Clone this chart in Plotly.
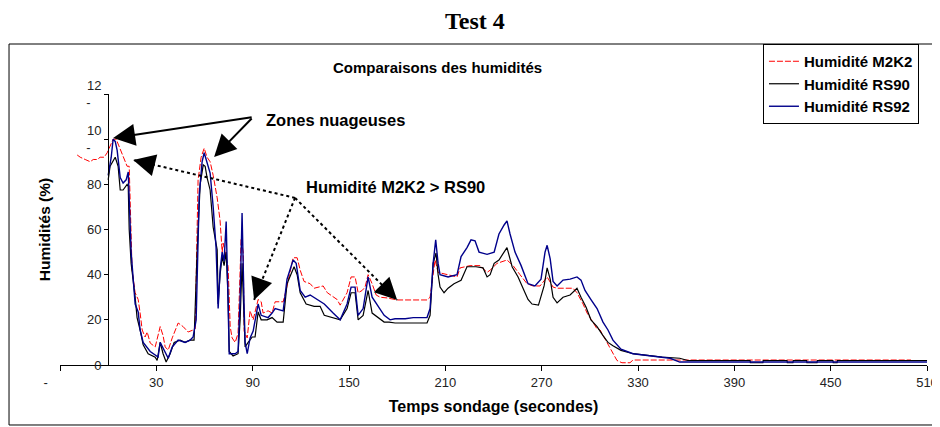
import plotly.graph_objects as go

# temps (s) et humidité (%)
t_m2k2 = [-19.3, -17.4, -14.3, -11.2, -9.3, -6.8, -5.0, -2.5, -0.6, 1.2, 3.1, 5.0, 6.2, 7.5, 10.0, 11.8, 13.1, 13.7,
          14.3, 14.9, 16.8, 18.7, 19.9, 21.2, 23.0, 24.3, 26.2, 29.3, 32.4, 34.2, 35.5, 37.4, 39.9, 41.7, 43.6, 46.7,
          49.8, 52.9, 54.2, 55.4, 56.0, 57.9, 59.8, 61.6, 63.5, 65.4, 67.9, 69.7, 71.0, 71.6, 73.5, 74.7, 76.0, 77.2,
          79.1, 80.9, 82.2, 82.8, 84.1, 84.7, 86.6, 88.4, 90.3, 92.2, 93.4, 95.3, 96.5, 99.6, 102.1, 104.0, 109.0,
          110.8, 113.3, 115.2, 117.7, 119.6, 122.0, 125.8, 128.3, 133.9, 136.5, 140.1, 142.6, 144.5, 148.8, 151.3,
          153.8, 155.7, 158.2, 160.0, 161.9, 164.4, 166.9, 169.4, 173.7, 180.0, 198.6, 200.5, 201.7, 203.6, 205.5,
          211.1, 217.3, 219.2, 225.4, 231.6, 236.0, 237.9, 242.2, 248.4, 252.2, 256.5, 260.9, 264.6, 269.0, 273.4,
          277.1, 279.6, 289.5, 292.0, 295.8, 298.3, 302.0, 304.5, 306.4, 310.7, 313.8, 316.9, 320.0, 325.0, 326.9,
          500.0]
h_m2k2 = [93, 92, 91, 90, 91, 91, 92, 92, 94, 97, 100, 100, 98, 95, 91, 88, 88, 70,
          54, 42, 32, 29, 23, 15.5, 12.4, 14.6, 9.7, 8, 17, 13, 8, 6.6, 12, 15.5, 18.6, 17,
          14.6, 15.5, 16, 60, 82, 92, 96, 92, 90, 84, 74, 64, 50, 54, 48, 43.6, 17, 12,
          10, 14, 42, 56, 50, 15, 12, 24, 20, 26, 29, 28, 23, 24, 23, 28, 28,
          33, 42, 47.5, 47.5, 42, 37, 36, 34, 35, 32, 30, 29, 26.5, 32, 39,
          39, 32, 33, 34.5, 40, 36, 31, 30, 29.7, 28.8, 28.8, 30, 36, 46.5, 41,
          40, 39, 43, 44, 44, 41, 42, 45, 46.5, 44, 40, 36, 35, 35, 39,
          34.5, 34, 34, 32, 27, 23, 18.6, 16, 15.5, 10, 6, 2, 1, 1, 2.2,
          2.2]

t_rs90 = [0.0, 1.2, 4.4, 6.2, 7.5, 9.3, 11.8, 12.5, 13.1, 14.3, 16.8, 18.0, 19.9, 21.8, 24.9, 29.3, 30.5, 32.4,
          34.2, 36.1, 38.6, 41.1, 44.8, 47.9, 51.0, 53.5, 55.4, 57.3, 59.2, 60.4, 61.6, 63.5, 65.4, 67.9, 68.5,
          69.7, 71.0, 72.2, 73.5, 74.7, 75.4, 77.8, 80.9, 82.2, 83.4, 84.7, 85.3, 87.2, 89.7, 91.5, 93.4, 95.3,
          99.0, 102.1, 105.2, 109.0, 111.4, 115.8, 117.7, 119.6, 123.3, 128.3, 132.0, 134.6, 140.1, 144.5, 148.8,
          151.3, 153.8, 155.7, 158.8, 161.9, 164.4, 168.1, 171.9, 175.0, 178.7, 198.6, 200.5, 202.4, 204.2, 205.5,
          206.7, 209.2, 211.7, 215.4, 219.8, 223.5, 229.1, 233.5, 236.0, 237.9, 240.4, 243.4, 248.4, 251.6, 255.3,
          259.0, 261.5, 264.0, 268.0, 271.5, 273.4, 275.3, 277.1, 279.6, 283.3, 287.7, 292.0, 294.5, 297.6, 300.7,
          304.5, 308.2, 311.3, 314.4, 319.4, 326.9, 337.5, 345.0, 356.0, 361.0, 399.8, 400.0, 407.8, 408.0, 422.8,
          423.0, 426.5, 426.7, 435.0, 435.2, 441.5, 441.7, 451.4, 451.6, 454.0, 454.2, 510.0]
h_rs90 = [82, 88, 92, 88, 77.5, 77.5, 80, 79, 60, 45, 30, 21, 15.5, 9, 5, 3.5, 2, 10,
          5, 1.3, 5, 10, 11, 10, 11, 11, 50, 80, 88.6, 88, 83, 77.5, 61, 51, 27,
          40, 48, 44, 50, 30, 6, 4, 5, 20, 45, 20, 8, 10, 12.4, 12.4, 23.5, 20,
          20, 21, 19, 19, 36, 43.5, 40, 32, 27, 26, 26, 22, 21, 20, 25,
          32, 32, 20, 22, 33, 23, 21, 19, 19, 18.6, 18.6, 22, 45, 49.6, 40,
          34.5, 32, 34, 36, 37.5, 43.5, 43.5, 43, 39, 40, 45, 46.5, 52, 43.5, 39,
          33, 29, 27, 26.5, 35, 43, 38, 30, 27.5, 30, 31, 34, 30, 25.7, 20,
          17, 13, 10, 8.5, 6.5, 5, 4, 3.5, 3, 2, 2, 1, 1, 2, 2,
          1, 1, 2, 2, 1, 1, 2, 2, 1, 1, 2, 2]

t_rs92 = [0.0, 1.9, 3.1, 4.4, 5.6, 7.5, 9.3, 11.2, 12.5, 13.1, 14.3, 16.8, 18.7, 19.9, 21.8, 26.2, 29.3, 31.1,
          32.4, 35.5, 37.4, 39.9, 43.6, 47.9, 51.0, 52.9, 54.8, 56.7, 58.5, 59.8, 61.0, 62.3, 63.5, 65.4, 67.2,
          68.5, 69.7, 71.0, 72.2, 73.5, 74.7, 75.4, 79.1, 80.9, 82.2, 83.4, 84.7, 85.3, 86.6, 88.4, 90.3, 92.2,
          93.4, 95.3, 99.6, 102.1, 104.0, 109.0, 111.4, 115.2, 117.1, 119.6, 122.7, 125.8, 130.1, 134.6, 140.1,
          144.5, 148.8, 151.3, 153.8, 155.7, 158.8, 161.9, 164.4, 168.1, 171.9, 175.6, 178.7, 185.0, 190.0, 198.6,
          200.5, 202.4, 204.0, 205.5, 206.7, 211.7, 217.3, 219.8, 223.5, 226.0, 228.5, 231.0, 236.0, 240.4, 243.4,
          246.6, 248.4, 250.3, 253.4, 257.2, 261.5, 265.8, 269.6, 272.1, 273.4, 275.3, 277.1, 279.6, 283.3, 287.7,
          292.0, 294.5, 297.0, 300.7, 304.5, 308.2, 311.3, 314.4, 319.4, 326.9, 337.5, 345.0, 350.0, 356.0, 510.0]
h_rs92 = [84, 92, 100, 99, 95, 83, 80.6, 82, 85.5, 70, 50, 27, 23.5, 15.5, 10, 6, 4.4, 3.5,
          10, 6, 3, 8, 11, 10, 11, 12.4, 20, 75, 90, 94, 91, 88, 85, 70, 52,
          25, 42, 50, 46, 63.5, 20, 5, 5, 6, 30, 67.3, 25, 10, 5, 12, 15, 23,
          27, 22, 21, 23, 25, 24, 38, 46.5, 45, 33, 30, 31, 29, 27, 23,
          20, 27, 34.5, 34.5, 22, 25, 39, 30, 26, 22, 20, 20.5, 20.5, 21, 21,
          25, 45, 55.4, 45, 40, 39, 40, 48, 52, 55.4, 55, 50, 49, 50, 58,
          62, 63.8, 58, 50, 44, 36, 35, 38, 50, 53, 47, 37, 35, 37.6, 38,
          39, 37.6, 33, 29, 25, 19, 15.5, 11, 7, 5, 4, 3.5, 3, 1.3, 1.3]

x_ticks = [-30, 30, 90, 150, 210, 270, 330, 390, 450, 510]
x_labels = ['-' + '\u00a0' * 8, '30', '90', '150', '210', '270', '330', '390', '450', '510']
y_ticks = [0, 20, 40, 60, 80, 100, 120]
y_labels = ['0', '20', '40', '60', '80', '10<br>-\u00a0\u00a0\u00a0', '12<br>-\u00a0\u00a0\u00a0']

FONT = 'Arial, Liberation Sans, sans-serif'

fig = go.Figure()
fig.add_trace(go.Scatter(x=t_m2k2, y=h_m2k2, mode='lines', name='Humidité M2K2',
                         line=dict(color='#ff0000', width=1, dash='6px,2px')))
fig.add_trace(go.Scatter(x=t_rs90, y=h_rs90, mode='lines', name='Humidité RS90',
                         line=dict(color='#000000', width=1.2)))
fig.add_trace(go.Scatter(x=t_rs92, y=h_rs92, mode='lines', name='Humidité RS92',
                         line=dict(color='#00008b', width=1.4)))

# flèches pleines "Zones nuageuses"
for tip in [(3.1, 100.5), (66, 92.1)]:
    fig.add_annotation(x=tip[0], y=tip[1], ax=90.3, ay=109.8, axref='x', ayref='y', xref='x', yref='y',
                       text='', showarrow=True, arrowhead=2, arrowsize=2.2, arrowwidth=2, arrowcolor='black')

# flèches pointillées "Humidité M2K2 > RS90"
tail = (116.4, 74)
heads = [((15.6, 90.8), (20, 5)), ((90.9, 28.8), (7, -19)), ((180, 28.8), (-14, -14))]
for tip, off in heads:
    fig.add_shape(type='line', x0=tail[0], y0=tail[1], x1=tip[0], y1=tip[1], xref='x', yref='y',
                  line=dict(color='black', width=2, dash='dot'))
    fig.add_annotation(x=tip[0], y=tip[1], ax=off[0], ay=off[1], xref='x', yref='y',
                       text='', showarrow=True, arrowhead=2, arrowsize=2.2, arrowwidth=2, arrowcolor='black')

fig.add_annotation(x=141.3, y=108.5, xref='x', yref='y', text='<b>Zones nuageuses</b>', showarrow=False,
                   font=dict(family=FONT, size=16.5, color='black'))
fig.add_annotation(x=178.7, y=78.8, xref='x', yref='y', text='<b>Humidité M2K2 > RS90</b>', showarrow=False,
                   font=dict(family=FONT, size=16.5, color='black'))
fig.add_annotation(x=0.435, y=1.096, xref='paper', yref='paper', xanchor='center', yanchor='middle',
                   text='<b>Comparaisons des humidités</b>',
                   showarrow=False, font=dict(family=FONT, size=15, color='black'))

# cadre du graphique
fig.add_shape(type='rect', xref='paper', yref='paper', x0=-0.0588, x1=1.0092, y0=-0.2214, y1=1.1845,
              line=dict(color='black', width=1))

# la page ajoute une marge de 8 px : la figure fait 932x419
fig.update_layout(
    width=932, height=419,
    margin=dict(l=52, r=13, t=86, b=62, autoexpand=False),
    paper_bgcolor='white', plot_bgcolor='white',
    title=dict(text='<b>Test 4</b>', x=0.501, xanchor='center', y=0.97, yanchor='middle',
               font=dict(family='Liberation Serif, Times New Roman, serif', size=24, color='black')),
    font=dict(family=FONT, size=13, color='#222'),
    legend=dict(x=0.8108, y=1.1845, xanchor='left', yanchor='top', bgcolor='white',
                bordercolor='black', borderwidth=1, itemwidth=30,
                font=dict(family=FONT, size=15, color='black', weight='bold')),
    xaxis=dict(range=[-30, 510], tickvals=x_ticks, ticktext=x_labels, ticks='outside', ticklen=5,
               tickcolor='black', showline=True, linecolor='black', linewidth=1, showgrid=False, zeroline=False,
               title=dict(text='<b>Temps sondage (secondes)</b>', font=dict(family=FONT, size=16, color='black'),
                          standoff=12)),
    yaxis=dict(range=[0, 120], anchor='free', position=48 / 867, tickvals=y_ticks, ticktext=y_labels,
               ticks='outside', ticklen=4, tickcolor='black', showline=True, linecolor='black', linewidth=1,
               showgrid=False, zeroline=False,
               title=dict(text='<b>Humidités (%)</b>', font=dict(family=FONT, size=15.5, color='black'),
                          standoff=30)),
)

fig.write_html('out.html')
